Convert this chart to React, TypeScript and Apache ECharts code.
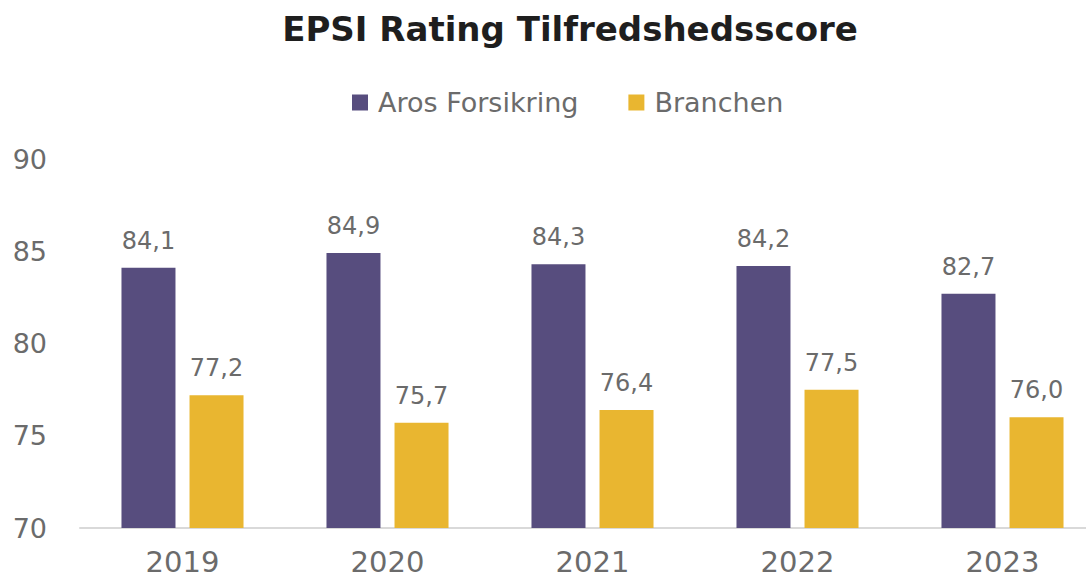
import React, { useEffect, useRef } from "react";
import * as echarts from "echarts";

const categories = ["2019", "2020", "2021", "2022", "2023"];
const arosValues = [84.1, 84.9, 84.3, 84.2, 82.7];
const branchenValues = [77.2, 75.7, 76.4, 77.5, 76.0];
const yTicks = [70, 75, 80, 85, 90];

const FONT = "'DejaVu Sans', sans-serif";
const GRAY = "#6b6b6b";

export default function App() {
  const ref = useRef<HTMLDivElement>(null);
  useEffect(() => {
    if (!ref.current) return;
    const chart = echarts.init(ref.current, undefined, { renderer: "svg" });
    const fmt = (p: any) => Number(p.value).toFixed(1).replace(".", ",");
    chart.setOption({
      animation: false,
      backgroundColor: "#ffffff",
      title: {
        text: "EPSI Rating Tilfredshedsscore",
        left: 565,
        textAlign: "center",
        top: 7,
        textStyle: { fontFamily: FONT, fontWeight: "bold", fontSize: 34, color: "#1e1e1e" },
      },
      legend: {
        top: 84,
        left: 347,
        itemWidth: 16,
        itemHeight: 16,
        itemGap: 50,
        icon: "rect",
        textStyle: { fontFamily: FONT, fontSize: 27, color: GRAY, padding: [0, 0, 0, 5] },
        data: ["Aros Forsikring", "Branchen"],
      },
      grid: { left: 80, right: 0, top: 159, bottom: 51, containLabel: false },
      xAxis: {
        type: "category",
        data: categories,
        axisLine: { lineStyle: { color: "#d9d9d9", width: 2 } },
        axisTick: { show: false },
        axisLabel: { fontFamily: FONT, fontSize: 29, color: GRAY, margin: 19 },
      },
      yAxis: {
        type: "value",
        min: yTicks[0],
        max: yTicks[yTicks.length - 1],
        interval: 5,
        splitLine: { show: false },
        axisLine: { show: false },
        axisTick: { show: false },
        axisLabel: { fontFamily: FONT, fontSize: 27, color: GRAY, margin: 33 },
      },
      series: [
        {
          name: "Aros Forsikring",
          type: "bar",
          data: arosValues,
          barWidth: 54,
          barGap: "26%",
          itemStyle: { color: "#574d7e" },
          label: { show: true, position: "top", distance: 15, formatter: fmt, fontFamily: FONT, fontSize: 24, color: GRAY },
        },
        {
          name: "Branchen",
          type: "bar",
          data: branchenValues,
          barWidth: 54,
          barGap: "26%",
          itemStyle: { color: "#e9b630" },
          label: { show: true, position: "top", distance: 15, formatter: fmt, fontFamily: FONT, fontSize: 24, color: GRAY },
        },
      ],
    });
    return () => chart.dispose();
  }, []);
  return <div ref={ref} style={{ position: "fixed", left: 0, top: 0, width: 1105, height: 579 }} />;
}
